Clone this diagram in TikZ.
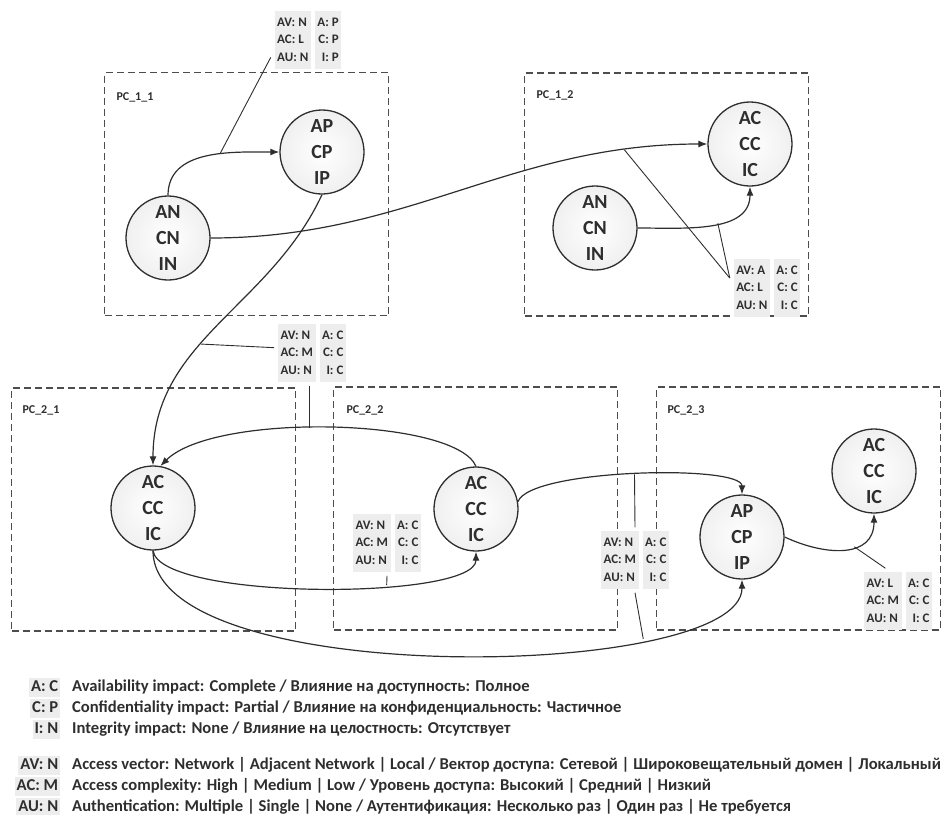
\documentclass[tikz,border=0pt]{standalone}
\usepackage{fontspec}
\setmainfont{Carlito}
\usepackage{xcolor}
\usetikzlibrary{arrows.meta,positioning,shapes}
\definecolor{lbl}{gray}{0.93}
\definecolor{ink}{gray}{0.18}

\newcommand{\vecbox}[6]{%
  \setlength{\fboxsep}{2.5pt}%
  \colorbox{lbl}{\begin{tabular}{@{}l@{}}#1\\#2\\#3\end{tabular}}%
  \hspace{4pt}%
  \colorbox{lbl}{\begin{tabular}{@{}r@{}}#4\\#5\\#6\end{tabular}}}
\newcommand{\lkey}[1]{\makebox[48pt][r]{\setlength{\fboxsep}{2pt}\colorbox{lbl}{\rule[-4pt]{0pt}{15pt}#1}}}

\begin{document}
\begin{tikzpicture}[x=1pt,y=1pt,
  host/.style={circle,draw=ink,line width=1.3pt,inner color=white,outer color=gray!12,minimum size=84pt,inner sep=0pt,align=center,font=\bfseries\fontsize{20}{26}\selectfont,text=ink},
  pcbox/.style={draw=ink!85,dash pattern=on 7pt off 4pt,line width=1.3pt,minimum width=284pt,minimum height=243pt},
  pcname/.style={anchor=west,font=\bfseries\fontsize{12}{14}\selectfont,text=ink},
  cvss/.style={inner sep=0pt,outer sep=4pt,font=\bfseries\fontsize{13}{17.5}\selectfont,text=ink},
  legend/.style={anchor=west,inner sep=0pt,font=\bfseries\fontsize{16.6}{21}\selectfont,text=ink},
  link/.style={-{Latex[length=9pt,width=7pt]},line width=1.2pt,draw=ink},
  tag/.style={line width=0.9pt,draw=ink}]
\useasboundingbox (0,0) rectangle (947,-814);

% Hosts grouped by PC
\node[pcbox] (pc11) at (246.5,-194) {};
\node[pcbox] (pc12) at (666.5,-194.5) {};
\node[pcbox] (pc21) at (153.5,-509.5) {};
\node[pcbox] (pc22) at (475.5,-508.5) {};
\node[pcbox] (pc23) at (798.5,-508.5) {};
\node[pcname] (n11) at (113,-97) {PC\_1\_1};
\node[pcname] (n12) at (533,-95) {PC\_1\_2};
\node[pcname] (n21) at (19,-410) {PC\_2\_1};
\node[pcname] (n22) at (343,-410) {PC\_2\_2};
\node[pcname] (n23) at (664,-410) {PC\_2\_3};

% Privilege states
\node[host] (an11) at (168,-238) {AN\\CN\\IN};
\node[host] (ap11) at (322,-152) {AP\\CP\\IP};
\node[host] (an12) at (595,-228) {AN\\CN\\IN};
\node[host] (ac12) at (750,-144) {AC\\CC\\IC};
\node[host] (ac21) at (153,-508) {AC\\CC\\IC};
\node[host] (ac22) at (476,-509) {AC\\CC\\IC};
\node[host] (ap23) at (742,-537) {AP\\CP\\IP};
\node[host] (ac23) at (874,-471) {AC\\CC\\IC};

% Exploits
\draw[link] (an11.north) to[out=90,in=180] coordinate[pos=0.6] (t11) (ap11.west);
\draw[link] (an11.east) to[out=0,in=180] coordinate[pos=0.85] (t12a) (ac12.west);
\draw[link] (an12.east) to[out=0,in=-90] coordinate[pos=0.55] (t12b) (ac12.south);
\draw[link] (ap11.south) to[out=-115,in=90] coordinate[pos=0.58] (t21a) (ac21.north);
\draw[link] (ac22.north) .. controls +(113:53) and +(45:76) .. (ac21.80) coordinate[pos=0.55] (t21b);
\draw[link] (ac21.south) .. controls +(7,-50) and +(0,-49) .. (ac22.south) coordinate[pos=0.65] (t22);
\draw[link] (ac21.south) .. controls +(0,-140) and +(0,-101) .. (ap23.south) coordinate[pos=0.74] (t23b);
\draw[link] (ac22.10) .. controls +(70:35) and +(90:30) .. (ap23.north) coordinate[pos=0.5] (t23a);
\draw[link] (ap23.east) .. controls +(-25:45) and +(-90:45) .. (ac23.south) coordinate[pos=0.6] (t24);

% CVSS vectors
\node[cvss] (v11) at (308,-40) {\vecbox{AV: N}{AC: L}{AU: N}{A: P}{C: P}{I: P}};
\node[cvss] (v12) at (767,-288) {\vecbox{AV: A}{AC: L}{AU: N}{A: C}{C: C}{I: C}};
\node[cvss] (v21) at (312,-353) {\vecbox{AV: N}{AC: M}{AU: N}{A: C}{C: C}{I: C}};
\node[cvss] (v22) at (387,-543) {\vecbox{AV: N}{AC: M}{AU: N}{A: C}{C: C}{I: C}};
\node[cvss] (v23) at (635,-560) {\vecbox{AV: N}{AC: M}{AU: N}{A: C}{C: C}{I: C}};
\node[cvss] (v24) at (898,-601) {\vecbox{AV: L}{AC: M}{AU: N}{A: C}{C: C}{I: C}};
\draw[tag] (v11.205) -- (t11);
\draw[tag] (v12.165) -- (t12a);
\draw[tag] (v12.165) -- (t12b);
\draw[tag] (v21.172) -- (t21a);
\draw[tag] (t21b |- v21.south) -- (t21b);
\draw[tag] (v22.south) -- (t22);
\draw[tag] (v23.north) -- (t23a);
\draw[tag] (v23.south) -- (t23b);
\draw[tag] (v24.111) -- (t24);

% Legend
\node[legend] (leg1) at (12,-708) {\begin{tabular}{@{}l@{\hspace{12pt}}l@{}}
\lkey{A: C} & Availability impact: Complete / Влияние на доступность: Полное\\
\lkey{C: P} & Confidentiality impact: Partial / Влияние на конфиденциальность: Частичное\\
\lkey{I: N} & Integrity impact: None / Влияние на целостность: Отсутствует
\end{tabular}};
\node[legend] (leg2) at (12,-786) {\begin{tabular}{@{}l@{\hspace{12pt}}l@{}}
\lkey{AV: N} & Access vector: Network | Adjacent Network | Local / Вектор доступа: Сетевой | Широковещательный домен | Локальный\\
\lkey{AC: M} & Access complexity: High | Medium | Low / Уровень доступа: Высокий | Средний | Низкий\\
\lkey{AU: N} & Authentication: Multiple | Single | None / Аутентификация: Несколько раз | Один раз | Не требуется
\end{tabular}};
\end{tikzpicture}
\end{document}
